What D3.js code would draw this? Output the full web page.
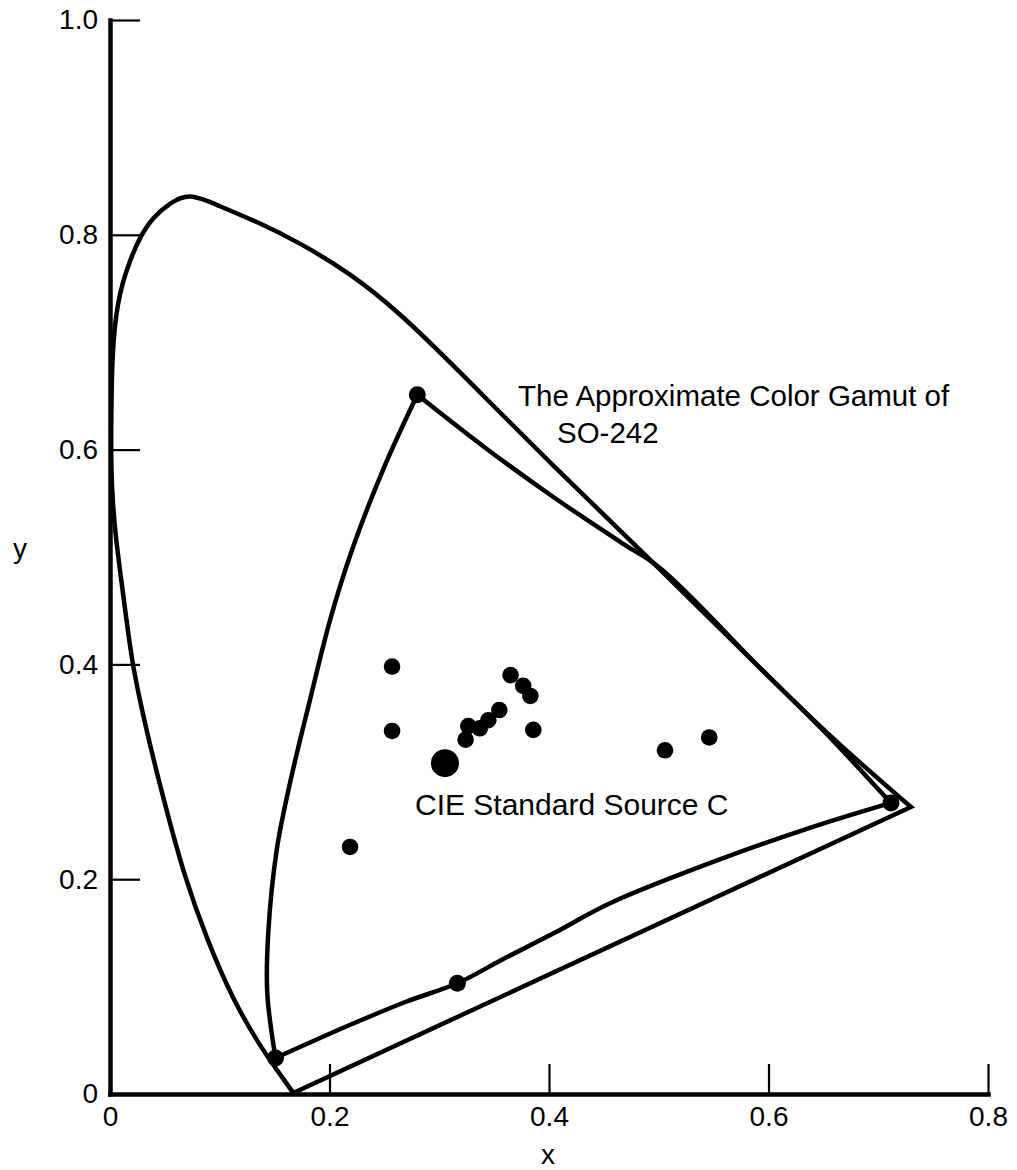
<!DOCTYPE html>
<html>
<head>
<meta charset="utf-8">
<script src="https://cdn.jsdelivr.net/npm/d3@7"></script>
<style>
  html, body { margin: 0; padding: 0; background: #ffffff; }
  svg { display: block; }
  text { font-family: "Liberation Sans", Arial, sans-serif; fill: #000; }
</style>
</head>
<body>
<svg id="chart" width="1017" height="1170"></svg>
<script>
// ---------- data (chromaticity coordinates) ----------
const xTicks = [0, 0.2, 0.4, 0.6, 0.8];
const xTickLabels = ["0", "0.2", "0.4", "0.6", "0.8"];
const yTicks = [0, 0.2, 0.4, 0.6, 0.8, 1.0];
const yTickLabels = ["0", "0.2", "0.4", "0.6", "0.8", "1.0"];

// spectrum locus, from the violet end up round the green peak to the red end
const locusPoints = [
  [0.167, 0.001], [0.1522, 0.0223], [0.1367, 0.0447], [0.1121, 0.0875],
  [0.0884, 0.1434], [0.0674, 0.2039], [0.0519, 0.2626], [0.0374, 0.3203],
  [0.0282, 0.3622], [0.0200, 0.4013], [0.0109, 0.4739], [0.0046, 0.5223],
  [0.0014, 0.5670], [0.0009, 0.6089], [0.0014, 0.6462], [0.0018, 0.6741],
  [0.0032, 0.7020], [0.0055, 0.7253], [0.0091, 0.7458], [0.0137, 0.7626],
  [0.0191, 0.7784], [0.0273, 0.7980], [0.0392, 0.8166], [0.0547, 0.8296],
  [0.0720, 0.8390], [0.0975, 0.8277], [0.1367, 0.8110], [0.1731, 0.7924],
  [0.2187, 0.7644], [0.2642, 0.7272], [0.3153, 0.6760], [0.4036, 0.5847],
  [0.4984, 0.4916], [0.5923, 0.3966], [0.6560, 0.3324], [0.7298, 0.2672]
];
// purple line closing the locus (back to the violet end)
const purpleEnd = [0.167, 0.001];

// SO-242 gamut edges
const gamutGreenRed = [
  [0.280, 0.651], [0.3406, 0.6027], [0.4036, 0.5561], [0.4665, 0.5130],
  [0.5011, 0.4898], [0.593, 0.396], [0.656, 0.332], [0.7034, 0.280], [0.7116, 0.271]
];
const gamutRedBlue = [
  [0.7116, 0.271], [0.6412, 0.2489], [0.5543, 0.2179], [0.4556, 0.1776],
  [0.4042, 0.1496], [0.3567, 0.1248], [0.3165, 0.1031], [0.2697, 0.0859],
  [0.2184, 0.0642], [0.1508, 0.0335]
];
const gamutBlueGreen = [
  [0.1508, 0.0335], [0.1433, 0.094], [0.1442, 0.150], [0.1519, 0.2272],
  [0.164, 0.2896], [0.1822, 0.3669], [0.2005, 0.4413], [0.2205, 0.5065],
  [0.2487, 0.581], [0.280, 0.651]
];
// gamut primaries and intermediate point
const gamutDotsX = [0.280, 0.7116, 0.1508, 0.3165];
const gamutDotsY = [0.651, 0.271, 0.0335, 0.1031];

// measured samples
const sampleX = [0.257, 0.257, 0.365, 0.3765, 0.383, 0.3547, 0.3447, 0.337, 0.3265, 0.324, 0.3857, 0.5057, 0.546, 0.2187];
const sampleY = [0.398, 0.338, 0.390, 0.380, 0.3706, 0.3575, 0.348, 0.3405, 0.3426, 0.330, 0.339, 0.320, 0.332, 0.230];

// CIE Standard Source C
const sourceC = [0.3052, 0.308];

const gamutLabel = ["The Approximate Color Gamut of", "SO-242"];
const sourceLabel = "CIE Standard Source C";

// ---------- drawing ----------
const svg = d3.select("#chart");
const x = d3.scaleLinear().domain([0, 0.8]).range([110, 988]);
const y = d3.scaleLinear().domain([0, 1]).range([1094, 20]);

const basis = d3.line().x(d => x(d[0])).y(d => y(d[1])).curve(d3.curveBasis);
const smooth = d3.line().x(d => x(d[0])).y(d => y(d[1])).curve(d3.curveCatmullRom.alpha(0.5));

// axes
const yAxis = d3.axisLeft(y).tickValues(yTicks)
  .tickFormat((d, i) => yTickLabels[i]).tickSize(-30).tickSizeOuter(0).tickPadding(12);
const xAxis = d3.axisBottom(x).tickValues(xTicks)
  .tickFormat((d, i) => xTickLabels[i]).tickSize(-30).tickSizeOuter(0).tickPadding(12);

const gy = svg.append("g").attr("transform", `translate(${x(0)},0)`).call(yAxis);
const gx = svg.append("g").attr("transform", `translate(0,${y(0)})`).call(xAxis);
[gx, gy].forEach(g => {
  g.select(".domain").attr("stroke", "#000").attr("stroke-width", 4.5).attr("stroke-linecap", "square");
  g.selectAll(".tick line").attr("stroke", "#000").attr("stroke-width", 2.2);
  g.selectAll(".tick text").attr("font-size", 28).attr("font-family", "Liberation Sans, Arial, sans-serif").attr("fill", "#000");
});
gy.selectAll(".tick").filter(d => d === 0).select("line").remove();
gx.selectAll(".tick").filter(d => d === 0).select("line").remove();

// axis titles
svg.append("text").attr("x", 548).attr("y", 1164).attr("text-anchor", "middle")
  .attr("font-size", 28).text("x");
svg.append("text").attr("x", 20).attr("y", 558).attr("text-anchor", "middle")
  .attr("font-size", 28).text("y");

// spectrum locus + purple line as one closed stroke (sharp corners)
svg.append("path")
  .attr("d", basis(locusPoints) + "L" + x(purpleEnd[0]) + "," + y(purpleEnd[1]) + "Z")
  .attr("fill", "none").attr("stroke", "#000").attr("stroke-width", 4.5)
  .attr("stroke-linejoin", "miter").attr("stroke-miterlimit", 10);

// gamut
[gamutGreenRed, gamutRedBlue, gamutBlueGreen].forEach(edge => {
  svg.append("path").attr("d", smooth(edge))
    .attr("fill", "none").attr("stroke", "#000").attr("stroke-width", 4.5).attr("stroke-linejoin", "round");
});

svg.append("g").selectAll("circle").data(gamutDotsX).join("circle")
  .attr("cx", d => x(d)).attr("cy", (d, i) => y(gamutDotsY[i])).attr("r", 8.5).attr("fill", "#000");

svg.append("g").selectAll("circle").data(sampleX).join("circle")
  .attr("cx", d => x(d)).attr("cy", (d, i) => y(sampleY[i])).attr("r", 8.3).attr("fill", "#000");

svg.append("circle").attr("cx", x(sourceC[0])).attr("cy", y(sourceC[1])).attr("r", 14).attr("fill", "#000");

// annotations
svg.append("text").attr("x", 518).attr("y", 406).attr("font-size", 29.5).text(gamutLabel[0]);
svg.append("text").attr("x", 557).attr("y", 443).attr("font-size", 29.5).text(gamutLabel[1]);
svg.append("text").attr("x", 415).attr("y", 815).attr("font-size", 30).text(sourceLabel);
</script>
</body>
</html>
